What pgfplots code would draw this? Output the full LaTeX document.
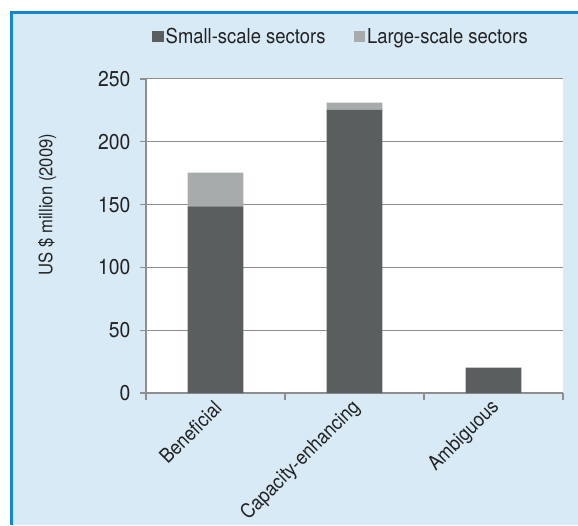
\documentclass[border=0pt]{standalone}
\usepackage{fontspec}
\setmainfont{TeX Gyre Heros}[FakeStretch=0.9]
\usepackage{pgfplots}
\pgfplotsset{compat=1.18}
\definecolor{panelbg}{HTML}{D8EAF6}
\definecolor{panelrule}{HTML}{1487D0}
\definecolor{smallc}{HTML}{5B5E5F}
\definecolor{largec}{HTML}{A8ABAB}
\definecolor{gridc}{HTML}{8E8E8E}
\definecolor{textc}{HTML}{222222}

\begin{document}
\begin{tikzpicture}[x=1pt,y=1pt]
\useasboundingbox (0,0) rectangle (578,525);
% panel
\fill[panelbg] (11.5,0) rectangle (578,512.5);
\draw[panelrule, line width=3pt] (11.5,0) -- (11.5,512.5) -- (578,512.5);
\begin{axis}[
  at={(146pt,132pt)}, anchor=south west,
  width=417pt, height=314pt, scale only axis,
  xmin=-0.5, xmax=2.5, ymin=0, ymax=250,
  ybar stacked, bar width=0.4,
  axis background/.style={fill=white},
  axis x line*=bottom, axis y line*=left,
  axis line style={gridc, line width=1.3pt, -},
  ytick={0,50,...,250},
  ymajorgrids, grid style={gridc, line width=1pt},
  tick align=outside,
  major tick length=6pt,
  y tick style={gridc, line width=1.3pt},
  xtick={0,1,2},
  xticklabels={Beneficial,Capacity-enhancing,Ambiguous},
  major x tick style={draw=none},
  minor xtick={-0.5,0.5,1.5,2.5},
  minor tick length=7pt,
  minor x tick style={gridc, line width=1.3pt},
  /pgf/number format/assume math mode=true,
  tick label style={font=\fontsize{21.5}{24}\selectfont, text=textc},
  yticklabel style={xshift=-6pt},
  xticklabel style={xshift=5pt, yshift=-3pt, rotate=45, anchor=east,
    font=\fontsize{20}{24}\selectfont},
  ylabel={US \$ million (2009)},
  ylabel style={at={(axis description cs:-0.237,0.6)}, anchor=center,
    font=\fontsize{18.5}{22}\selectfont, text=textc},
  legend columns=2,
  legend style={at={(axis description cs:0.0144,1.135)}, anchor=west,
    draw=none, fill=none, inner sep=0pt,
    font=\fontsize{20.5}{24}\selectfont, text=textc,
    nodes={inner sep=2pt},
    /tikz/every even column/.append style={column sep=26pt}},
  legend image code/.code={\fill[#1] (0pt,-5.75pt) rectangle (11.5pt,5.75pt);},
]
\addplot[fill=smallc, draw=none] coordinates {(0,148.5) (1,225.5) (2,20.3)};
\addplot[fill=largec, draw=none] coordinates {(0,27) (1,5.7) (2,0)};
\legend{Small-scale sectors, Large-scale sectors}
\end{axis}
\end{tikzpicture}
\end{document}
